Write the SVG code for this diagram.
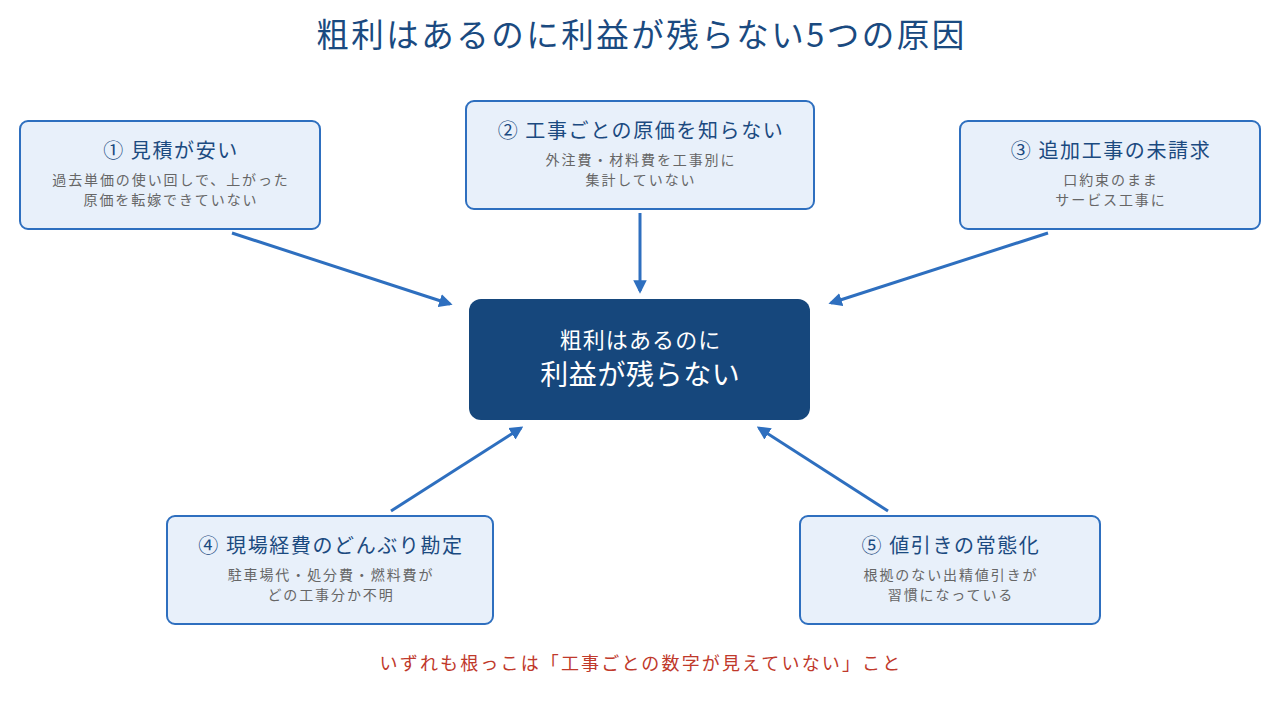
<svg xmlns="http://www.w3.org/2000/svg" width="1280" height="720" viewBox="0 0 1280 720">
<defs>
<style>
text{font-family:"Noto Sans CJK JP","Noto Sans",sans-serif;text-anchor:middle}
.box{fill:#e8f0fa;stroke:#2e6fbf;stroke-width:2}
.t{font-size:20px;fill:#1b4a80;letter-spacing:1.6px}
.s{font-size:14px;fill:#666666;letter-spacing:1.9px}
.c{stroke:#2e6fbf;stroke-width:3;fill:none;marker-end:url(#ah)}
</style>
<marker id="ah" viewBox="0 0 10 10" refX="8" refY="5" markerWidth="4.5" markerHeight="4.5" orient="auto" markerUnits="strokeWidth">
<path d="M0,0 L10,5 L0,10 z" fill="#2e6fbf"/>
</marker>
</defs>
<rect width="1280" height="720" fill="#ffffff"/>
<text x="641.5" y="47" font-size="32.5" fill="#1a4a80" letter-spacing="2.5">粗利はあるのに利益が残らない5つの原因</text>
<g id="connectors">
<line class="c" x1="232" y1="233" x2="450" y2="304"/>
<line class="c" x1="640" y1="213" x2="640" y2="291"/>
<line class="c" x1="1048" y1="233" x2="831" y2="303"/>
<line class="c" x1="391" y1="511" x2="521" y2="428"/>
<line class="c" x1="888" y1="511" x2="759" y2="428"/>
</g>
<g id="center">
<rect x="469" y="299" width="341" height="121" rx="12" fill="#16477c"/>
<text x="640.5" y="348" font-size="22" fill="#ffffff" letter-spacing="1.1">粗利はあるのに</text>
<text x="640.3" y="385" font-size="28" fill="#ffffff" letter-spacing="0.6">利益が残らない</text>
</g>
<g id="n1">
<rect class="box" x="20" y="121" width="300" height="108" rx="8"/>
<text class="t" x="171" y="158">① 見積が安い</text>
<text class="s" x="171" y="185">過去単価の使い回しで、上がった</text>
<text class="s" x="171" y="205">原価を転嫁できていない</text>
</g>
<g id="n2">
<rect class="box" x="466" y="101" width="348" height="108" rx="8"/>
<text class="t" x="641" y="138">② 工事ごとの原価を知らない</text>
<text class="s" x="641" y="165">外注費・材料費を工事別に</text>
<text class="s" x="641" y="185">集計していない</text>
</g>
<g id="n3">
<rect class="box" x="960" y="121" width="300" height="108" rx="8"/>
<text class="t" x="1111" y="158">③ 追加工事の未請求</text>
<text class="s" x="1111" y="185">口約束のまま</text>
<text class="s" x="1111" y="205">サービス工事に</text>
</g>
<g id="n4">
<rect class="box" x="167" y="516" width="326" height="108" rx="8"/>
<text class="t" x="331" y="553">④ 現場経費のどんぶり勘定</text>
<text class="s" x="331" y="580">駐車場代・処分費・燃料費が</text>
<text class="s" x="331" y="600">どの工事分か不明</text>
</g>
<g id="n5">
<rect class="box" x="800" y="516" width="300" height="108" rx="8"/>
<text class="t" x="951" y="553">⑤ 値引きの常態化</text>
<text class="s" x="951" y="580">根拠のない出精値引きが</text>
<text class="s" x="951" y="600">習慣になっている</text>
</g>
<text x="641" y="670" font-size="18" fill="#c0392b" letter-spacing="2.15">いずれも根っこは「工事ごとの数字が見えていない」こと</text>
</svg>
